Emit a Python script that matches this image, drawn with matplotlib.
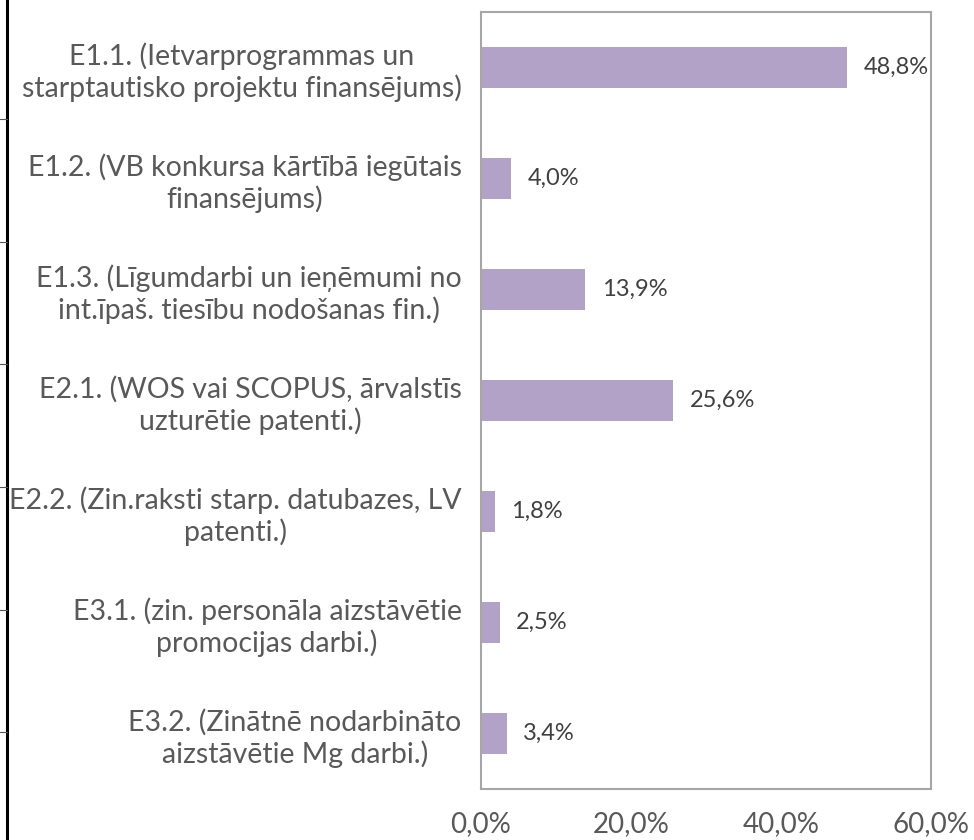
import matplotlib.pyplot as plt
from matplotlib.lines import Line2D

categories = [
    "E1.1. (Ietvarprogrammas un\nstarptautisko projektu finansējums)",
    "E1.2. (VB konkursa kārtībā iegūtais\nfinansējums)",
    "E1.3. (Līgumdarbi un ieņēmumi no\nint.īpaš. tiesību nodošanas fin.)",
    "E2.1. (WOS vai SCOPUS, ārvalstīs\nuzturētie patenti.)",
    "E2.2. (Zin.raksti starp. datubazes, LV\npatenti.)",
    "E3.1. (zin. personāla aizstāvētie\npromocijas darbi.)",
    "E3.2. (Zinātnē nodarbināto\naizstāvētie Mg darbi.)",
]
values = [48.8, 4.0, 13.9, 25.6, 1.8, 2.5, 3.4]
xticks = [0, 20, 40, 60]

W, H = 974, 840
fig = plt.figure(figsize=(W / 100, H / 100), dpi=100)
plt.rcParams['font.family'] = ['Lato', 'DejaVu Sans']
text_color = "#595959"

# plot area in pixels: x 481..931, y 12..789
ax = fig.add_axes([481 / W, 1 - 789 / H, 450 / W, 777 / H])
pos = list(range(len(values)))[::-1]
ax.barh(pos, values, height=0.37, color="#B3A2C7")
for p, v in zip(pos, values):
    ax.text(v + 2.2, p, f"{v:.1f}%".replace(".", ","), va="center", ha="left",
            fontsize=17, color="#404040")

ax.set_xlim(0, 60)
ax.set_ylim(-0.5, len(values) - 0.5)
ax.set_xticks(xticks)
ax.set_xticklabels([f"{t:.1f}%".replace(".", ",") for t in xticks], fontsize=20, color=text_color)
ax.tick_params(axis="x", length=0, pad=16)
ax.set_yticks(pos)
ax.set_yticklabels(categories, fontsize=20.5, color=text_color, multialignment="center",
                   linespacing=1.2)
ax.tick_params(axis="y", length=0, pad=14)
for s in ax.spines.values():
    s.set_color("#A6A6A6")
    s.set_linewidth(1.5)

# table border remnant at the left edge
fig.add_artist(Line2D([6.7 / W, 6.7 / W], [0, 1], color="black", lw=2.2))
for y in [119, 242, 364, 487, 610, 732]:
    fig.add_artist(Line2D([0, 7 / W], [1 - y / H, 1 - y / H], color="#555555", lw=0.8))

fig.savefig("out.png", dpi=100)
